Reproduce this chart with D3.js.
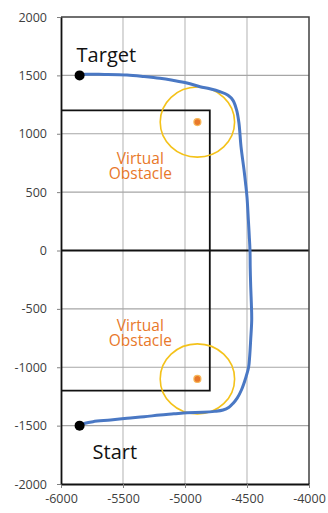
<!DOCTYPE html>
<html>
<head>
<meta charset="utf-8">
<script src="https://cdn.jsdelivr.net/npm/d3@7/dist/d3.min.js"></script>
<style>
  html, body { margin: 0; padding: 0; background: #fff; }
  svg { display: block; }
  text { font-family: "Open Sans", "Noto Sans", sans-serif; }
</style>
</head>
<body>
<svg id="chart" width="328" height="513"></svg>
<script>
// Axis ticks
const xTicks = [-6000, -5500, -5000, -4500, -4000];
const yTicks = [-2000, -1500, -1000, -500, 0, 500, 1000, 1500, 2000];

// Recorded trajectory, from Start to Target
const pathX = [-5850, -5806, -5742, -5600, -5468, -5330, -5202, -5090, -4984, -4855, -4760, -4693, -4645, -4613, -4578, -4545, -4508, -4487, -4478, -4470, -4462, -4465, -4470, -4474, -4476, -4482, -4489, -4500, -4512, -4524, -4548, -4565, -4583, -4613, -4653, -4718, -4800, -4879, -4984, -5100, -5202, -5330, -5468, -5650, -5806, -5850];
const pathY = [-1500, -1480, -1466, -1452, -1437, -1424, -1409, -1399, -1389, -1386, -1378, -1366, -1342, -1310, -1262, -1195, -1083, -1000, -900, -760, -595, -450, -313, -150, 4, 130, 261, 458, 580, 690, 887, 1092, 1200, 1286, 1330, 1360, 1385, 1403, 1435, 1458, 1475, 1490, 1503, 1508, 1509, 1500];

// Virtual obstacles and their avoidance radius
const obstacleX = [-4900, -4900];
const obstacleY = [1100, -1100];
const obstacleRadius = 300;

// Corridor boundary
const boundaryX = [-6000, -4800, -4800, -6000];
const boundaryY = [1200, 1200, -1200, -1200];

// End points
const endLabels = ["Target", "Start"];
const endX = [-5850, -5850];
const endY = [1500, -1500];

const obstacleLabel = ["Virtual", "Obstacle"];
const obstacleLabelX = [-5360, -5360];
const obstacleLabelY = [740, -690];

const W = 328, H = 513;
const margin = { top: 17, right: 19, bottom: 29, left: 61 };
const svg = d3.select("#chart");

const x = d3.scaleLinear().domain([-6000, -4000]).range([margin.left, W - margin.right]);
const y = d3.scaleLinear().domain([-2000, 2000]).range([H - margin.bottom, margin.top]);

// Gridlines
const grid = svg.append("g");
grid.selectAll("line.gx").data(xTicks.slice(1, -1)).join("line")
  .attr("x1", d => x(d)).attr("x2", d => x(d))
  .attr("y1", y(-2000)).attr("y2", y(2000))
  .attr("stroke", "#bfbfbf").attr("stroke-width", 1.2);
grid.selectAll("line.gy").data(yTicks.slice(1, -1).filter(d => d !== 0)).join("line")
  .attr("x1", x(-6000)).attr("x2", x(-4000))
  .attr("y1", d => y(d)).attr("y2", d => y(d))
  .attr("stroke", "#a6a6a6").attr("stroke-width", 1.2);

// Zero line
svg.append("line")
  .attr("x1", x(-6000)).attr("x2", x(-4000))
  .attr("y1", y(0)).attr("y2", y(0))
  .attr("stroke", "#111").attr("stroke-width", 1.8);

// Outer frame (top and right)
svg.append("path")
  .attr("d", `M${x(-6000)},${y(2000)}H${x(-4000)}V${y(-2000)}`)
  .attr("fill", "none").attr("stroke", "#404040").attr("stroke-width", 1.5);

// Axes
const plain = d => String(d);
const xAxis = d3.axisBottom(x).tickValues(xTicks).tickFormat(plain).tickSize(4).tickSizeOuter(0).tickPadding(6);
const yAxis = d3.axisLeft(y).tickValues(yTicks).tickFormat(plain).tickSize(4).tickSizeOuter(0).tickPadding(10);

const gx = svg.append("g").attr("transform", `translate(0,${y(-2000)})`).call(xAxis);
const gy = svg.append("g").attr("transform", `translate(${x(-6000)},0)`).call(yAxis);
[gx, gy].forEach(g => {
  g.select(".domain").attr("stroke", "#111").attr("stroke-width", 1.8);
  g.selectAll(".tick line").attr("stroke", "#808080");
  g.selectAll(".tick text").attr("fill", "#404040").style("font-size", "12.5px")
    .style("font-family", "'Open Sans', sans-serif");
});

// Corridor boundary
svg.append("path")
  .attr("d", d3.line().x(d => x(d[0])).y(d => y(d[1]))(boundaryX.map((v, i) => [v, boundaryY[i]])))
  .attr("fill", "none").attr("stroke", "#111").attr("stroke-width", 1.8);

// Obstacle avoidance circles
svg.selectAll("ellipse.zone").data(obstacleX).join("ellipse")
  .attr("cx", d => x(d)).attr("cy", (d, i) => y(obstacleY[i]))
  .attr("rx", x(-6000 + obstacleRadius) - x(-6000))
  .attr("ry", y(0) - y(obstacleRadius))
  .attr("fill", "none").attr("stroke", "#f4c21a").attr("stroke-width", 1.6);

// Trajectory
svg.append("path")
  .attr("d", d3.line().x(d => x(d[0])).y(d => y(d[1])).curve(d3.curveCatmullRom)(pathX.map((v, i) => [v, pathY[i]])))
  .attr("fill", "none").attr("stroke", "#4a78c4").attr("stroke-width", 3)
  .attr("stroke-linejoin", "round").attr("stroke-linecap", "round");

// Obstacle centres
svg.selectAll("circle.obs").data(obstacleX).join("circle")
  .attr("cx", d => x(d)).attr("cy", (d, i) => y(obstacleY[i]))
  .attr("r", 3.5).attr("fill", "#e8782a").attr("stroke", "#f7b85a").attr("stroke-width", 1.2);

// Start / target markers
svg.selectAll("circle.end").data(endX).join("circle")
  .attr("cx", d => x(d)).attr("cy", (d, i) => y(endY[i]))
  .attr("r", 5).attr("fill", "#000");

svg.append("text").attr("x", x(endX[0]) - 3).attr("y", y(endY[0]) - 13)
  .style("font-size", "20px").attr("fill", "#111").text(endLabels[0]);
svg.append("text").attr("x", x(endX[1]) + 13).attr("y", y(endY[1]) + 33)
  .style("font-size", "20px").attr("fill", "#111").text(endLabels[1]);

// Obstacle labels: one text element per label, two lines
obstacleLabelX.forEach((lx, i) => {
  const t = svg.append("text").attr("x", x(lx)).attr("y", y(obstacleLabelY[i]))
    .attr("text-anchor", "middle").attr("fill", "#e8782a").style("font-size", "15.5px");
  obstacleLabel.forEach((s, j) => {
    t.append("tspan").attr("x", x(lx)).attr("dy", j === 0 ? 0 : 15).text(s);
  });
});
</script>
</body>
</html>
